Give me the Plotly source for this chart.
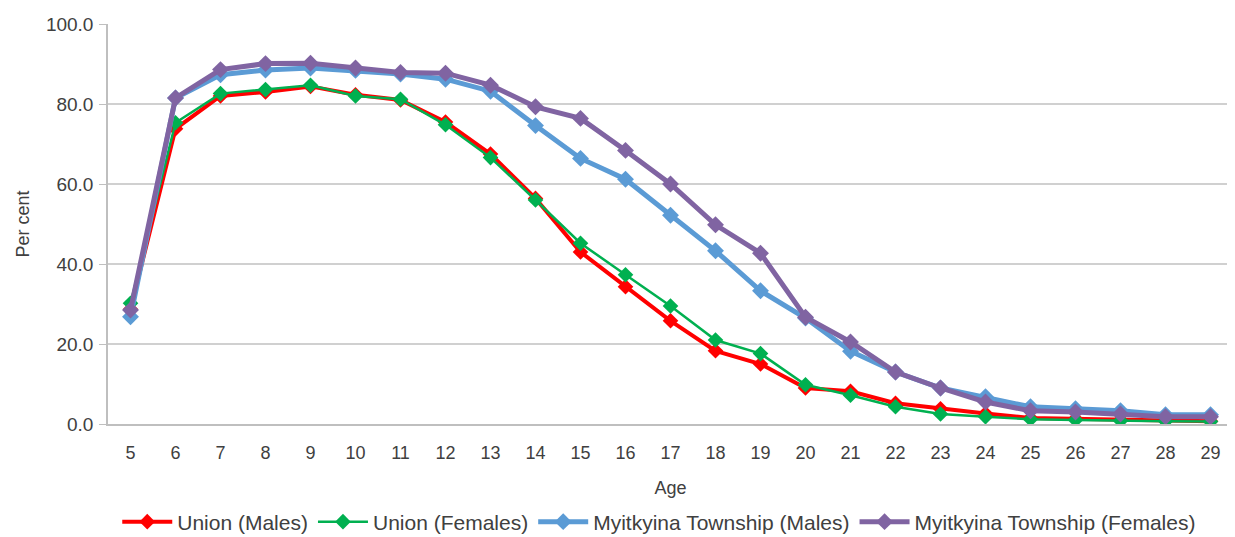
import plotly.graph_objects as go

ages = [str(a) for a in range(5, 30)]

union_males = [28.7, 73.8, 82.0, 83.0, 84.4, 82.3, 81.0, 75.5, 67.5, 56.4, 43.0, 34.3, 25.8, 18.3, 15.0, 9.0, 8.2, 5.2, 3.8, 2.6, 1.5, 1.3, 1.0, 0.8, 0.7]
union_females = [30.2, 75.3, 82.6, 83.6, 84.7, 82.0, 81.2, 74.8, 66.6, 56.0, 45.2, 37.3, 29.5, 21.0, 17.6, 9.8, 7.2, 4.3, 2.5, 1.8, 1.2, 1.0, 0.8, 0.7, 0.6]
myit_males = [26.8, 81.5, 87.3, 88.5, 89.0, 88.4, 87.5, 86.2, 83.2, 74.6, 66.4, 61.2, 52.2, 43.3, 33.3, 26.5, 18.2, 13.0, 9.0, 6.8, 4.3, 3.8, 3.3, 2.3, 2.3]
myit_females = [28.5, 81.5, 88.6, 90.1, 90.2, 89.0, 87.9, 87.7, 84.7, 79.3, 76.4, 68.4, 60.0, 49.8, 42.7, 26.7, 20.5, 13.0, 9.0, 5.5, 3.3, 3.0, 2.5, 1.8, 1.8]

series = [
    ("Union (Males)", union_males, "#ff0000", 4, 12),
    ("Union (Females)", union_females, "#00b050", 2.5, 12),
    ("Myitkyina Township (Males)", myit_males, "#5b9bd5", 5, 13),
    ("Myitkyina Township (Females)", myit_females, "#8064a2", 5, 13),
]

fig = go.Figure()
for name, vals, color, lw, ms in series:
    fig.add_trace(go.Scatter(
        x=ages, y=vals, name=name, mode="lines+markers",
        line=dict(color=color, width=lw),
        marker=dict(symbol="diamond", size=ms, color=color),
    ))

font = "Liberation Sans, Arial, sans-serif"
txt = "#404040"
fig.update_layout(
    width=1227, height=529,
    margin=dict(l=100, r=2, t=16, b=113, autoexpand=False),
    paper_bgcolor="white", plot_bgcolor="white",
    font=dict(family=font, size=18, color=txt),
    showlegend=True,
    legend=dict(orientation="h", x=0.49, xanchor="center", y=-0.245, yanchor="middle",
                font=dict(size=21, color=txt), itemwidth=50, tracegroupgap=0),
    xaxis=dict(type="category", range=[-0.5, 24.5], showgrid=False,
               showline=True, linecolor="#bfbfbf", linewidth=1.5,
               ticks="outside", ticklen=12, tickcolor="rgba(0,0,0,0)",
               tickfont=dict(size=18, color=txt),
               title=dict(text="Age", font=dict(size=18, color=txt), standoff=19)),
    yaxis=dict(range=[0, 100], dtick=20, tickformat=".1f",
               showgrid=True, gridcolor="#d0d0d0", gridwidth=1.5,
               showline=True, linecolor="#bfbfbf", linewidth=1.5,
               ticks="outside", ticklen=7, tickcolor="#bfbfbf",
               tickfont=dict(size=19, color=txt), ticklabelstandoff=2,
               zeroline=False,
               title=dict(text="Per cent", font=dict(size=18, color=txt), standoff=12)),
)

fig.write_html("out.html")
